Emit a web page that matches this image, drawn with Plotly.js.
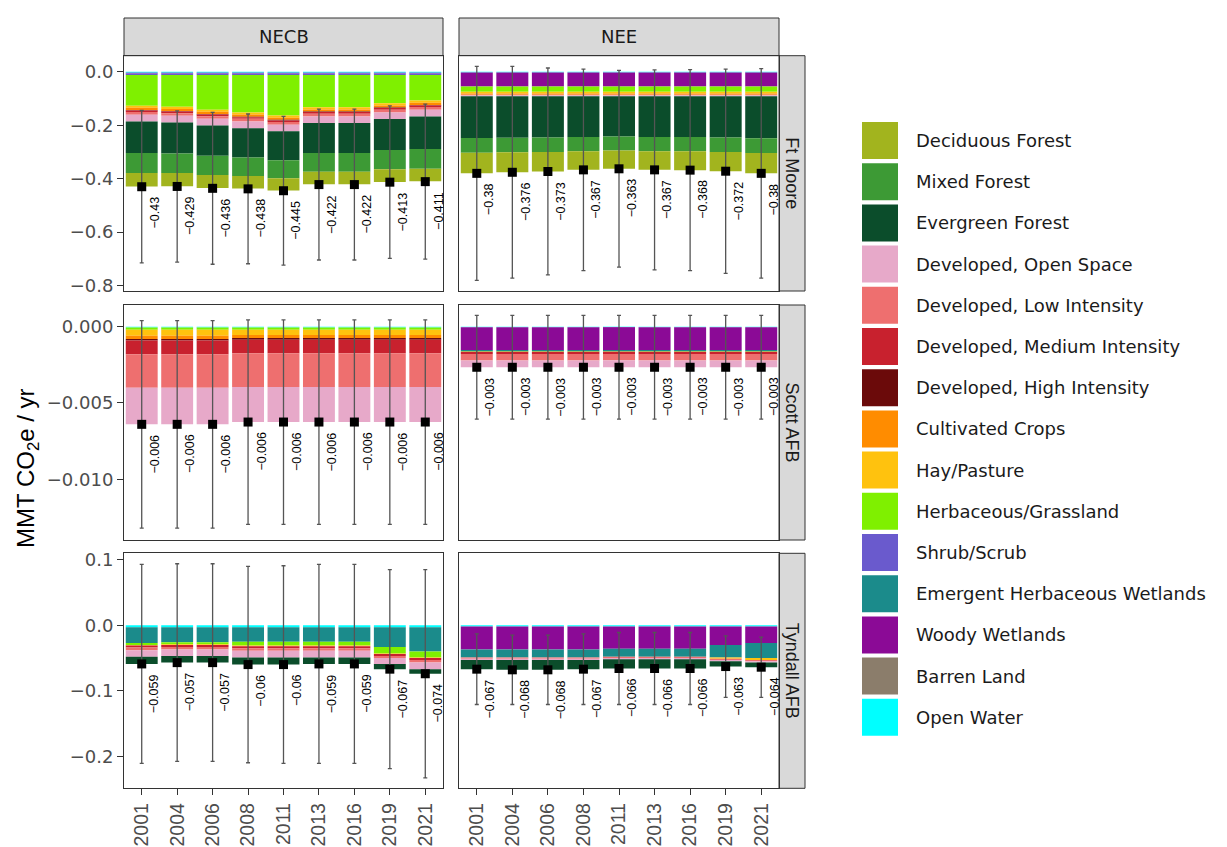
<!DOCTYPE html>
<html><head><meta charset="utf-8">
<script src="https://cdn.plot.ly/plotly-3.0.1.min.js"></script>
<style>html,body{margin:0;padding:0;background:#fff;}#chart{width:1227px;height:847px;}</style>
</head><body><div id="chart"></div>
<script>
// ---------- DATA ----------
const years = ['2001','2004','2006','2008','2011','2013','2016','2019','2021'];
const classes = ['Deciduous Forest','Mixed Forest','Evergreen Forest','Developed, Open Space','Developed, Low Intensity','Developed, Medium Intensity','Developed, High Intensity','Cultivated Crops','Hay/Pasture','Herbaceous/Grassland','Shrub/Scrub','Emergent Herbaceous Wetlands','Woody Wetlands','Barren Land','Open Water'];
const classColors = ['#a2b41e','#3d9a35','#0b4d2b','#e7a9c9','#ee6f6f','#c8212e','#6b0a0a','#ff8c00','#ffc20e','#7ff000','#6a5acd','#1b8b8b','#8b0a96','#8b7d6b','#00ffff'];
const methods = ['NECB','NEE'];
const sites = ['Ft Moore','Scott AFB','Tyndall AFB'];

// NECB, Ft Moore
const necbFtMoore = {
  'Open Water': [-0.004,-0.004,-0.004,-0.004,-0.004,-0.004,-0.004,-0.004,-0.004],
  'Woody Wetlands': [-0.003,-0.003,-0.003,-0.003,-0.003,-0.003,-0.003,-0.003,-0.003],
  'Shrub/Scrub': [-0.005,-0.005,-0.005,-0.005,-0.005,-0.005,-0.005,-0.005,-0.005],
  'Herbaceous/Grassland': [-0.115,-0.119,-0.130,-0.140,-0.152,-0.121,-0.121,-0.106,-0.096],
  'Hay/Pasture': [-0.008,-0.008,-0.008,-0.008,-0.008,-0.008,-0.008,-0.008,-0.008],
  'Cultivated Crops': [-0.008,-0.008,-0.008,-0.008,-0.008,-0.008,-0.008,-0.008,-0.008],
  'Developed, High Intensity': [-0.002,-0.002,-0.002,-0.002,-0.002,-0.002,-0.002,-0.002,-0.002],
  'Developed, Medium Intensity': [-0.006,-0.006,-0.006,-0.006,-0.006,-0.006,-0.006,-0.006,-0.006],
  'Developed, Low Intensity': [-0.010,-0.010,-0.010,-0.010,-0.010,-0.010,-0.010,-0.010,-0.010],
  'Developed, Open Space': [-0.025,-0.025,-0.025,-0.025,-0.025,-0.025,-0.025,-0.025,-0.025],
  'Evergreen Forest': [-0.118,-0.116,-0.113,-0.110,-0.108,-0.112,-0.112,-0.116,-0.122],
  'Mixed Forest': [-0.075,-0.073,-0.072,-0.069,-0.067,-0.070,-0.070,-0.072,-0.074],
  'Deciduous Forest': [-0.050,-0.049,-0.049,-0.047,-0.046,-0.047,-0.047,-0.047,-0.047]
};
const necbFtMooreTotal = [-0.43,-0.429,-0.436,-0.438,-0.445,-0.422,-0.422,-0.413,-0.411];
const necbFtMooreErr = [0.285,0.283,0.284,0.280,0.278,0.282,0.282,0.285,0.290];

// NEE, Ft Moore
const neeFtMoore = {
  'Open Water': [-0.003,-0.003,-0.003,-0.003,-0.003,-0.003,-0.003,-0.003,-0.003],
  'Woody Wetlands': [-0.052,-0.052,-0.052,-0.052,-0.052,-0.052,-0.052,-0.052,-0.052],
  'Herbaceous/Grassland': [-0.020,-0.020,-0.020,-0.020,-0.020,-0.020,-0.020,-0.020,-0.020],
  'Hay/Pasture': [-0.006,-0.006,-0.006,-0.006,-0.006,-0.006,-0.006,-0.006,-0.006],
  'Cultivated Crops': [-0.005,-0.005,-0.005,-0.005,-0.005,-0.005,-0.005,-0.005,-0.005],
  'Developed, Low Intensity': [-0.003,-0.003,-0.003,-0.003,-0.003,-0.003,-0.003,-0.003,-0.003],
  'Developed, Open Space': [-0.003,-0.003,-0.003,-0.003,-0.003,-0.003,-0.003,-0.003,-0.003],
  'Evergreen Forest': [-0.156,-0.155,-0.154,-0.152,-0.150,-0.152,-0.152,-0.154,-0.157],
  'Mixed Forest': [-0.055,-0.054,-0.054,-0.053,-0.053,-0.053,-0.053,-0.054,-0.055],
  'Deciduous Forest': [-0.077,-0.075,-0.073,-0.070,-0.068,-0.070,-0.071,-0.072,-0.076]
};
const neeFtMooreTotal = [-0.38,-0.376,-0.373,-0.367,-0.363,-0.367,-0.368,-0.372,-0.38];
const neeFtMooreErr = [0.400,0.396,0.387,0.377,0.368,0.374,0.376,0.382,0.392];

// NECB, Scott AFB
const necbScott = {
  'Open Water': [-0.00005,-0.00005,-0.00005,-0.00005,-0.00005,-0.00005,-0.00005,-0.00005,-0.00005],
  'Herbaceous/Grassland': [-0.00015,-0.00015,-0.00015,-0.00015,-0.00015,-0.00015,-0.00015,-0.00015,-0.00015],
  'Hay/Pasture': [-0.0004,-0.0004,-0.0004,-0.00035,-0.00035,-0.00035,-0.00035,-0.00035,-0.00035],
  'Cultivated Crops': [-0.0002,-0.0002,-0.0002,-0.0002,-0.0002,-0.0002,-0.0002,-0.0002,-0.0002],
  'Developed, High Intensity': [-0.0001,-0.0001,-0.0001,-0.0001,-0.0001,-0.0001,-0.0001,-0.0001,-0.0001],
  'Developed, Medium Intensity': [-0.0009,-0.0009,-0.0009,-0.0009,-0.0009,-0.0009,-0.0009,-0.0009,-0.0009],
  'Developed, Low Intensity': [-0.0022,-0.0022,-0.0022,-0.0022,-0.0022,-0.0022,-0.0022,-0.0022,-0.0022],
  'Developed, Open Space': [-0.0024,-0.0024,-0.0024,-0.0023,-0.0023,-0.0023,-0.0023,-0.0023,-0.0023]
};
const necbScottTotal = [-0.0064,-0.0064,-0.0064,-0.00625,-0.00625,-0.00625,-0.00625,-0.00625,-0.00625];
const necbScottErr = [0.0068,0.0068,0.0068,0.0067,0.0067,0.0067,0.0067,0.0067,0.0067];

// NEE, Scott AFB
const neeScott = {
  'Open Water': [-0.00003,-0.00003,-0.00003,-0.00003,-0.00003,-0.00003,-0.00003,-0.00003,-0.00003],
  'Herbaceous/Grassland': [-0.00003,-0.00003,-0.00003,-0.00003,-0.00003,-0.00003,-0.00003,-0.00003,-0.00003],
  'Woody Wetlands': [-0.0015,-0.0015,-0.0015,-0.0015,-0.0015,-0.0015,-0.0015,-0.0015,-0.0015],
  'Emergent Herbaceous Wetlands': [-0.00008,-0.00008,-0.00008,-0.00008,-0.00008,-0.00008,-0.00008,-0.00008,-0.00008],
  'Developed, Medium Intensity': [-0.00015,-0.00015,-0.00015,-0.00015,-0.00015,-0.00015,-0.00015,-0.00015,-0.00015],
  'Developed, Low Intensity': [-0.00042,-0.00042,-0.00042,-0.00042,-0.00042,-0.00042,-0.00042,-0.00042,-0.00042],
  'Developed, Open Space': [-0.00045,-0.00045,-0.00045,-0.00045,-0.00045,-0.00045,-0.00045,-0.00045,-0.00045]
};
const neeScottTotal = [-0.00266,-0.00266,-0.00266,-0.00266,-0.00266,-0.00266,-0.00266,-0.00266,-0.00266];
const neeScottErr = [0.0034,0.0034,0.0034,0.0034,0.0034,0.0034,0.0034,0.0034,0.0034];

// NECB, Tyndall AFB
const necbTyndall = {
  'Open Water': [-0.003,-0.003,-0.003,-0.003,-0.003,-0.003,-0.003,-0.003,-0.003],
  'Emergent Herbaceous Wetlands': [-0.024,-0.023,-0.023,-0.022,-0.022,-0.022,-0.022,-0.030,-0.037],
  'Herbaceous/Grassland': [-0.003,-0.003,-0.003,-0.006,-0.006,-0.006,-0.006,-0.010,-0.009],
  'Hay/Pasture': [-0.001,-0.001,-0.001,-0.001,-0.001,-0.001,-0.001,-0.001,-0.001],
  'Developed, Medium Intensity': [-0.003,-0.003,-0.003,-0.003,-0.003,-0.003,-0.003,-0.003,-0.003],
  'Developed, Low Intensity': [-0.004,-0.004,-0.004,-0.004,-0.004,-0.004,-0.004,-0.003,-0.004],
  'Developed, Open Space': [-0.010,-0.010,-0.010,-0.010,-0.010,-0.010,-0.010,-0.009,-0.010],
  'Evergreen Forest': [-0.011,-0.010,-0.010,-0.011,-0.011,-0.010,-0.010,-0.008,-0.007]
};
const necbTyndallTotal = [-0.059,-0.057,-0.057,-0.06,-0.06,-0.059,-0.059,-0.067,-0.074];
const necbTyndallErr = [0.152,0.151,0.151,0.150,0.151,0.152,0.152,0.152,0.159];

// NEE, Tyndall AFB
const neeTyndall = {
  'Open Water': [-0.002,-0.002,-0.002,-0.002,-0.002,-0.002,-0.002,-0.002,-0.002],
  'Woody Wetlands': [-0.035,-0.035,-0.035,-0.035,-0.034,-0.034,-0.034,-0.028,-0.025],
  'Emergent Herbaceous Wetlands': [-0.012,-0.012,-0.012,-0.012,-0.012,-0.012,-0.012,-0.019,-0.023],
  'Hay/Pasture': [0,0,0,0,0,0,0,-0.002,-0.003],
  'Developed, Low Intensity': [-0.002,-0.002,-0.002,-0.002,-0.002,-0.002,-0.002,-0.002,-0.002],
  'Developed, Open Space': [-0.002,-0.002,-0.002,-0.002,-0.002,-0.002,-0.002,-0.002,-0.002],
  'Evergreen Forest': [-0.014,-0.015,-0.015,-0.014,-0.014,-0.014,-0.014,-0.008,-0.007]
};
const neeTyndallTotal = [-0.067,-0.068,-0.068,-0.067,-0.066,-0.066,-0.066,-0.063,-0.064];
const neeTyndallErr = [0.054,0.053,0.053,0.054,0.055,0.055,0.055,0.047,0.046];

// y axis ticks per row (site)
const yTickVals = [[0,-0.2,-0.4,-0.6,-0.8],[0,-0.005,-0.010],[0.1,0,-0.1,-0.2]];
const yTickFormats = ['.1f','.3f','.1f'];
const yRanges = [[-0.82,0.06],[-0.01398,0.00142],[-0.249,0.110]];

// ---------- LAYOUT GEOMETRY (pixels) ----------
const W = 1227, H = 847;
const px = v => v / W, py = v => 1 - v / H;
const colX = [[124,443],[459,779]];
const rowY = [[55.7,291],[305,540],[553.3,788.3]];
const stripTop = 18, stripRight = 805;

const panels = [
  [[necbFtMoore, necbFtMooreTotal, necbFtMooreErr],[neeFtMoore, neeFtMooreTotal, neeFtMooreErr]],
  [[necbScott, necbScottTotal, necbScottErr],[neeScott, neeScottTotal, neeScottErr]],
  [[necbTyndall, necbTyndallTotal, necbTyndallErr],[neeTyndall, neeTyndallTotal, neeTyndallErr]]
];

const fmt = v => (Math.round(v * 1000) / 1000).toString().replace('-', '\u2212');

const traces = [];
const layout = {
  width: W, height: H,
  margin: {l:0, r:0, t:0, b:0},
  paper_bgcolor: '#ffffff', plot_bgcolor: '#ffffff',
  barmode: 'relative', bargap: 0.1,
  showlegend: false, hovermode: false,
  shapes: [], annotations: []
};

const stackOrder = classes.slice().reverse(); // nearest zero first

for (let r = 0; r < 3; r++) {
  for (let c = 0; c < 2; c++) {
    const n = r * 2 + c + 1;
    const xa = 'x' + n, ya = 'y' + n;
    const [table, total, err] = panels[r][c];
    stackOrder.forEach(cls => {
      if (!table[cls]) return;
      traces.push({
        type: 'bar', x: years, y: table[cls], name: cls,
        marker: {color: classColors[classes.indexOf(cls)], line: {width: 0}},
        xaxis: xa, yaxis: ya, showlegend: false, hoverinfo: 'skip'
      });
    });
    traces.push({
      type: 'scatter', mode: 'markers', x: years, y: total,
      marker: {symbol: 'square', size: 9, color: '#000000'},
      error_y: {type: 'data', array: err, visible: true, color: '#555555', thickness: 1.3, width: 2},
      xaxis: xa, yaxis: ya, showlegend: false, hoverinfo: 'skip', cliponaxis: false
    });
    // value labels (x given as category index)
    years.forEach((yr, i) => {
      layout.annotations.push({
        xref: xa, yref: ya, x: i, y: total[i], text: fmt(total[i]),
        showarrow: false, textangle: -90, xanchor: 'left', yanchor: 'top',
        xshift: 4, yshift: -8,
        font: {family: 'Liberation Sans, Arial, sans-serif', size: 12.5, color: '#000000'}
      });
    });
    const bottomRow = r === 2, leftCol = c === 0;
    layout[n === 1 ? 'xaxis' : 'xaxis' + n] = {
      domain: [px(colX[c][0]), px(colX[c][1])], anchor: ya, type: 'category',
      range: [-0.5, years.length - 0.5], autorange: false,
      showline: true, mirror: true, linecolor: '#333333', linewidth: 1,
      showgrid: false, zeroline: false,
      ticks: bottomRow ? 'outside' : '', ticklen: 6, tickcolor: '#333333',
      showticklabels: bottomRow, tickangle: -90,
      tickfont: {family: 'Liberation Sans, Arial, sans-serif', size: 19.5, color: '#4d4d4d'},
      fixedrange: true
    };
    layout[n === 1 ? 'yaxis' : 'yaxis' + n] = {
      domain: [py(rowY[r][1]), py(rowY[r][0])], anchor: xa,
      range: yRanges[r], autorange: false, tickvals: yTickVals[r], tickformat: yTickFormats[r],
      showline: true, mirror: true, linecolor: '#333333', linewidth: 1,
      showgrid: false, zeroline: false,
      ticks: leftCol ? 'outside' : '', ticklen: 6, tickcolor: '#333333',
      showticklabels: leftCol,
      tickfont: {family: 'DejaVu Sans, sans-serif', size: 18, color: '#4d4d4d'},
      fixedrange: true
    };
  }
}

// top strips
methods.forEach((m, c) => {
  layout.shapes.push({type: 'rect', xref: 'paper', yref: 'paper',
    x0: px(colX[c][0]), x1: px(colX[c][1]), y0: py(rowY[0][0]), y1: py(stripTop),
    fillcolor: '#d9d9d9', line: {color: '#333333', width: 1}, layer: 'below'});
  layout.annotations.push({xref: 'paper', yref: 'paper', showarrow: false,
    x: px((colX[c][0] + colX[c][1]) / 2), y: py((stripTop + rowY[0][0]) / 2),
    xanchor: 'center', yanchor: 'middle',
    text: m, font: {family: 'DejaVu Sans, sans-serif', size: 18, color: '#1a1a1a'}});
});
// right strips
sites.forEach((s, r) => {
  layout.shapes.push({type: 'rect', xref: 'paper', yref: 'paper',
    x0: px(colX[1][1]), x1: px(stripRight), y0: py(rowY[r][1]), y1: py(rowY[r][0]),
    fillcolor: '#d9d9d9', line: {color: '#333333', width: 1}, layer: 'below'});
  layout.annotations.push({xref: 'paper', yref: 'paper', showarrow: false,
    x: px((colX[1][1] + stripRight) / 2), y: py((rowY[r][0] + rowY[r][1]) / 2),
    xanchor: 'center', yanchor: 'middle',
    text: s, textangle: 90,
    font: {family: 'Liberation Sans, Arial, sans-serif', size: 18, color: '#1a1a1a'}});
});
// y axis title
layout.annotations.push({xref: 'paper', yref: 'paper', showarrow: false,
  x: px(28), y: py(468), xanchor: 'center', yanchor: 'middle',
  text: 'MMT CO<sub>2</sub>e / yr', textangle: -90,
  font: {family: 'Liberation Sans, Arial, sans-serif', size: 24, color: '#000000'}});

// legend (custom keys)
const legTop = 122, legStep = 41.2, keyH = 37, keyX0 = 862, keyX1 = 898;
classes.forEach((cls, i) => {
  const y0 = legTop + i * legStep;
  layout.shapes.push({type: 'rect', xref: 'paper', yref: 'paper',
    x0: px(keyX0), x1: px(keyX1), y0: py(y0 + keyH), y1: py(y0),
    fillcolor: classColors[i], line: {width: 0}});
  layout.annotations.push({xref: 'paper', yref: 'paper', showarrow: false,
    x: px(914), y: py(y0 + keyH / 2), xanchor: 'left', yanchor: 'middle',
    text: cls, font: {family: 'DejaVu Sans, sans-serif', size: 18, color: '#1a1a1a'}});
});

Plotly.newPlot('chart', traces, layout, {displayModeBar: false, staticPlot: true});
</script>
</body></html>
